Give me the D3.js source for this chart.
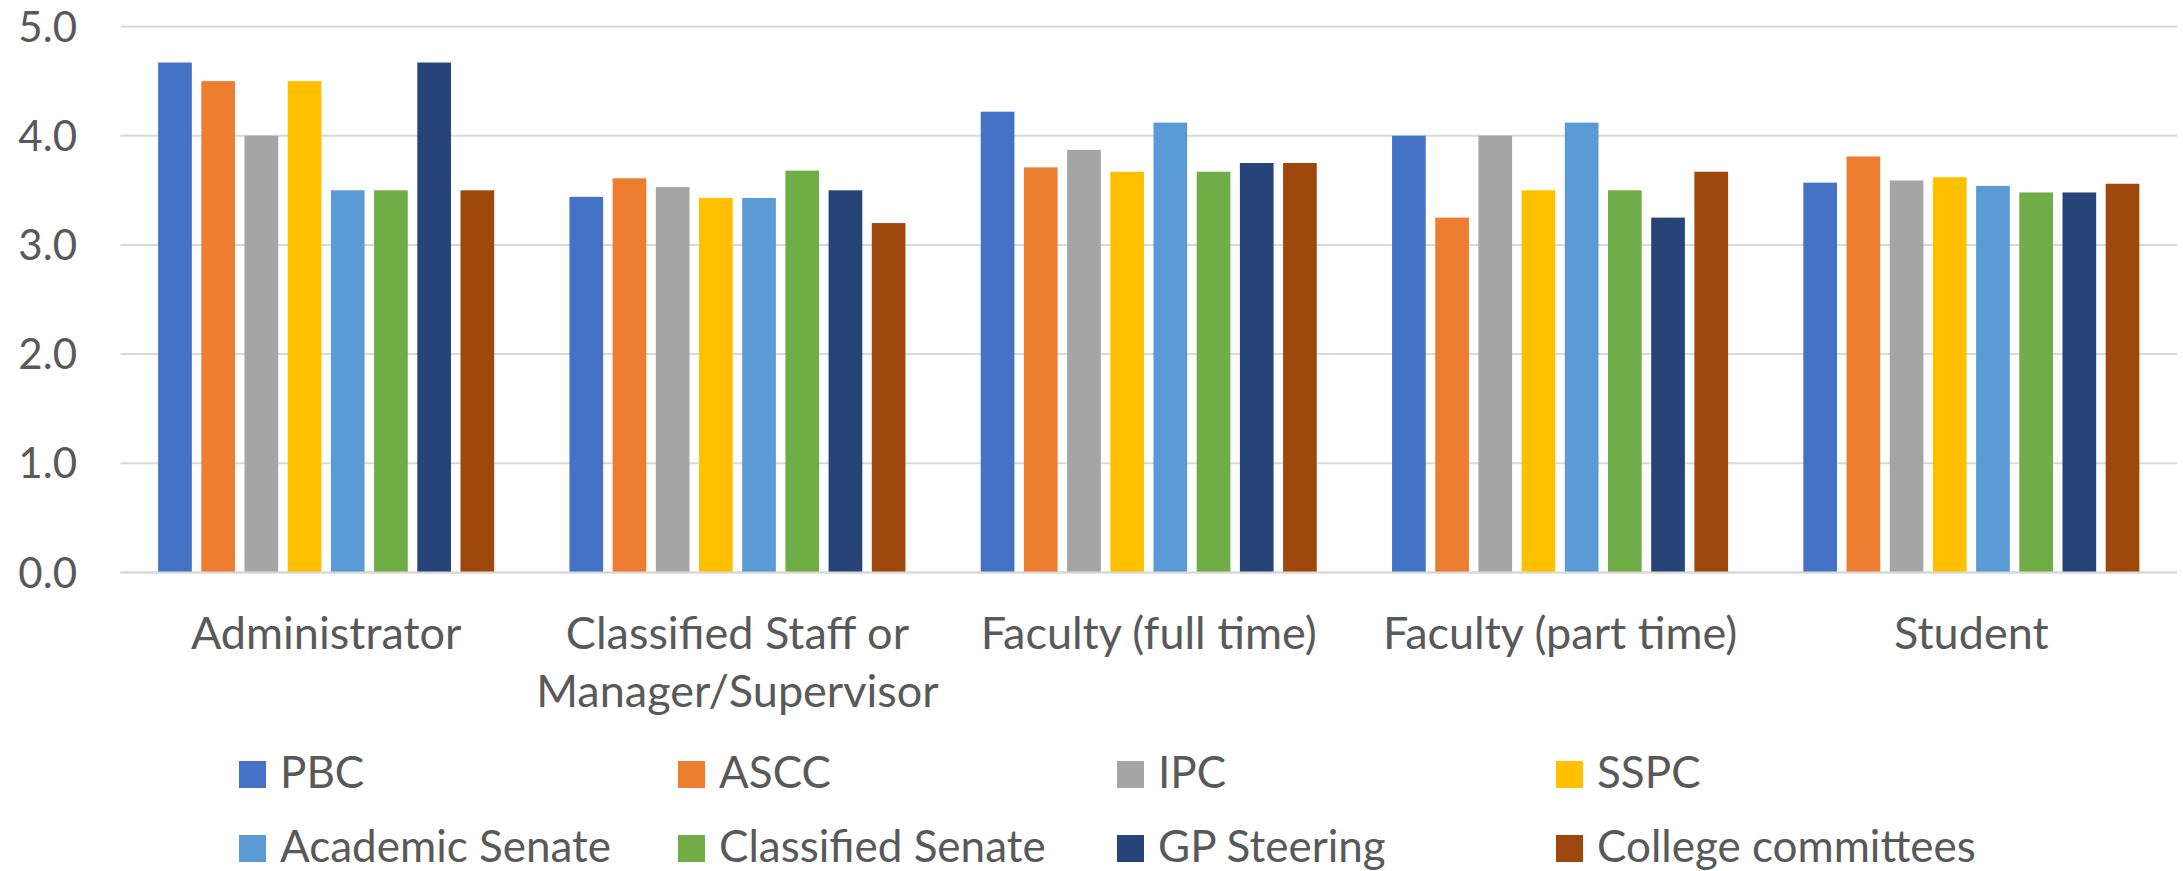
<!DOCTYPE html>
<html>
<head>
<meta charset="utf-8">
<script src="https://cdn.jsdelivr.net/npm/d3@7"></script>
<style>
  body { margin: 0; background: #fff; }
  text { font-family: Lato, "Open Sans", sans-serif; fill: #595959; }
</style>
</head>
<body>
<div id="chart"></div>
<script>
var width = 2183;
var height = 871;

// categories along the x axis (each entry is a list of label lines)
var groups = ['Administrator', 'Classified Staff or Manager/Supervisor', 'Faculty (full time)',
  'Faculty (part time)', 'Student'];
var groupLines = [['Administrator'], ['Classified Staff or', 'Manager/Supervisor'],
  ['Faculty (full time)'], ['Faculty (part time)'], ['Student']];

var series = ['PBC', 'ASCC', 'IPC', 'SSPC', 'Academic Senate', 'Classified Senate',
  'GP Steering', 'College committees'];
var colors = ['#4472C4', '#ED7D31', '#A5A5A5', '#FFC000', '#5B9BD5', '#70AD47', '#264478', '#9E480E'];

// one array per series, values in group order
var pbc        = [4.67, 3.44, 4.22, 4.00, 3.57];
var ascc       = [4.50, 3.61, 3.71, 3.25, 3.81];
var ipc        = [4.00, 3.53, 3.87, 4.00, 3.59];
var sspc       = [4.50, 3.43, 3.67, 3.50, 3.62];
var acadSenate = [3.50, 3.43, 4.12, 4.12, 3.54];
var classSenate = [3.50, 3.68, 3.67, 3.50, 3.48];
var gpSteering = [4.67, 3.50, 3.75, 3.25, 3.48];
var committees = [3.50, 3.20, 3.75, 3.67, 3.56];

var yTicks = [0, 1, 2, 3, 4, 5];

var values = [pbc, ascc, ipc, sspc, acadSenate, classSenate, gpSteering, committees];

var svg = d3.select('#chart').append('svg')
  .attr('width', width)
  .attr('height', height);

var x0 = d3.scaleBand().domain(groups).range([120.5, 2177])
  .paddingInner(0.183).paddingOuter(0.0915);
var x1 = d3.scaleBand().domain(series).range([0, x0.bandwidth()]).paddingInner(0.22);
var y = d3.scaleLinear().domain([0, 5]).range([572.5, 26.5]);

// gridlines
svg.append('g')
  .selectAll('line')
  .data(yTicks)
  .enter()
  .append('line')
  .attr('x1', 120.5)
  .attr('x2', 2177)
  .attr('y1', d => y(d))
  .attr('y2', d => y(d))
  .attr('stroke', '#D9D9D9')
  .attr('stroke-width', 2);

// y axis labels
svg.append('g')
  .selectAll('text')
  .data(yTicks)
  .enter()
  .append('text')
  .attr('x', 77)
  .attr('y', d => y(d))
  .attr('dy', '0.36em')
  .attr('text-anchor', 'end')
  .style('font-size', '42px')
  .text(d => d.toFixed(1));

// bars
var rows = [];
groups.forEach((g, gi) => {
  series.forEach((s, si) => {
    rows.push({ group: g, series: s, value: values[si][gi], color: colors[si] });
  });
});

svg.append('g')
  .selectAll('rect')
  .data(rows)
  .enter()
  .append('rect')
  .attr('x', d => x0(d.group) + x1(d.series))
  .attr('width', x1.bandwidth())
  .attr('y', d => y(d.value))
  .attr('height', d => y(0) - y(d.value))
  .attr('fill', d => d.color);

// redraw the baseline over the bars
svg.append('line')
  .attr('x1', 120.5)
  .attr('x2', 2177)
  .attr('y1', y(0))
  .attr('y2', y(0))
  .attr('stroke', '#D9D9D9')
  .attr('stroke-width', 2);

// category labels
var cat = svg.append('g')
  .selectAll('text')
  .data(groups)
  .enter()
  .append('text')
  .attr('x', d => x0(d) + x0.bandwidth() / 2)
  .attr('y', 649)
  .attr('text-anchor', 'middle')
  .style('font-size', '45px');

cat.selectAll('tspan')
  .data((d, i) => groupLines[i])
  .enter()
  .append('tspan')
  .attr('x', function () { return d3.select(this.parentNode).attr('x'); })
  .attr('dy', (d, i) => i === 0 ? 0 : 58)
  .text(d => d);

// legend, 4 columns x 2 rows
var legendX = d3.scalePoint().domain([0, 1, 2, 3]).range([239, 1556]);
var legendY = d3.scalePoint().domain([0, 1]).range([774.5, 848.5]);

var item = svg.append('g')
  .selectAll('g')
  .data(series)
  .enter()
  .append('g')
  .attr('transform', (d, i) => 'translate(' + legendX(i % 4) + ',' + legendY(Math.floor(i / 4)) + ')');

item.append('rect')
  .attr('x', 0)
  .attr('y', -13.5)
  .attr('width', 27)
  .attr('height', 27)
  .attr('fill', (d, i) => colors[i]);

item.append('text')
  .attr('x', 41)
  .attr('y', 13.5)
  .style('font-size', '44px')
  .text(d => d);
</script>
</body>
</html>
